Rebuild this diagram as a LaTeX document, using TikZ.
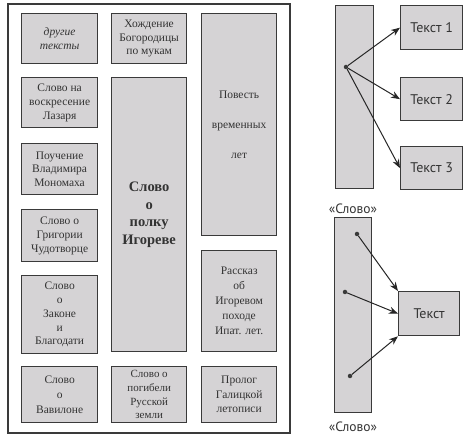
\documentclass[tikz,border=0pt]{standalone}
\usepackage{fontspec}
\setmainfont{Liberation Serif}
\newfontfamily\sansf{PT Sans}
\usetikzlibrary{arrows.meta}
\definecolor{boxgray}{HTML}{D5D3D5}
\definecolor{edgegray}{HTML}{3A3A3A}
\definecolor{txtgray}{HTML}{333333}
\tikzset{
  gbox/.style={draw=edgegray, fill=boxgray, line width=1.3pt, anchor=north west,
    inner sep=0pt, align=center, text=txtgray, font=\fontsize{11.5}{13.8}\selectfont},
  sbox/.style={gbox, font=\sansf\fontsize{14}{16}\selectfont},
  dotc/.style={circle, fill=edgegray, inner sep=0pt, minimum size=4.5pt},
  arr/.style={-{Stealth[length=9pt,width=7pt]}, line width=1pt, draw=black!85},
  lbl/.style={text=txtgray, font=\sansf\fontsize{13.5}{15}\selectfont}
}
\begin{document}
\begin{tikzpicture}[x=1pt,y=-1pt]
\useasboundingbox (0,0) rectangle (472,438);
\node[draw=edgegray, line width=1.6pt, anchor=north west, inner sep=0pt,
  minimum width=282pt, minimum height=429pt] (frame) at (7,3) {};
% left column
\node[gbox, minimum width=76pt, minimum height=50pt] (l1) at (21,13) {\itshape другие\\\itshape тексты};
\node[gbox, minimum width=76pt, minimum height=50pt] (l2) at (21,77) {Слово на\\воскресение\\Лазаря};
\node[gbox, minimum width=76pt, minimum height=51pt] (l3) at (21,143) {Поучение\\Владимира\\Мономаха};
\node[gbox, minimum width=76pt, minimum height=52pt] (l4) at (21,209) {Слово о\\Григории\\Чудотворце};
\node[gbox, minimum width=76pt, minimum height=78pt] (l5) at (21,275) {Слово\\о\\Законе\\и\\Благодати};
\node[gbox, minimum width=76pt, minimum height=56pt, font=\fontsize{11.5}{15}\selectfont] (l6) at (21,366) {Слово\\о\\Вавилоне};
% middle column
\node[gbox, minimum width=75pt, minimum height=50pt] (m1) at (111,13) {Хождение\\Богородицы\\по мукам};
\node[gbox, minimum width=75pt, minimum height=274pt, font=\bfseries\fontsize{14.5}{17.5}\selectfont] (m2) at (111,77) {Слово\\о\\полку\\Игореве};
\node[gbox, minimum width=75pt, minimum height=56pt, font=\fontsize{11}{13.6}\selectfont] (m3) at (111,366) {Слово о\\погибели\\Русской\\земли};
% right column
\node[gbox, minimum width=75pt, minimum height=222pt, font=\fontsize{11.5}{30}\selectfont] (r1) at (201,13) {Повесть\\временных\\лет};
\node[gbox, minimum width=75pt, minimum height=101pt, font=\fontsize{11.5}{15}\selectfont] (r2) at (201,250) {Рассказ\\об\\Игоревом\\походе\\Ипат. лет.};
\node[gbox, minimum width=75pt, minimum height=56pt, font=\fontsize{11.5}{14.5}\selectfont] (r3) at (201,366) {Пролог\\Галицкой\\летописи};
% top right diagram
\node[sbox, minimum width=38pt, minimum height=183pt] (c1) at (335,5) {};
\node[sbox, minimum width=62pt, minimum height=44pt] (t1) at (400,5) {Текст 1};
\node[sbox, minimum width=62pt, minimum height=43pt] (t2) at (400,77) {Текст 2};
\node[sbox, minimum width=62pt, minimum height=43pt] (t3) at (400,146) {Текст 3};
\node[lbl] (c1l) at (353,209) {«Слово»};
\node[dotc] (d1) at (346,67) {};
\draw[arr] (d1) -- (t1.west);
\draw[arr] (d1) -- (t2.west);
\draw[arr] (d1) -- (t3.west);
% bottom right diagram
\node[sbox, minimum width=37pt, minimum height=195pt] (c2) at (334,217) {};
\node[sbox, minimum width=61pt, minimum height=44pt] (t) at (398,291) {Текст};
\node[lbl] (c2l) at (353,427) {«Слово»};
\node[dotc] (d2) at (357,234) {};
\node[dotc] (d3) at (345,292) {};
\node[dotc] (d4) at (350,376) {};
\draw[arr] (d2) -- (t.north west);
\draw[arr] (d3) -- (t.west);
\draw[arr] (d4) -- (t.south west);
\end{tikzpicture}
\end{document}
